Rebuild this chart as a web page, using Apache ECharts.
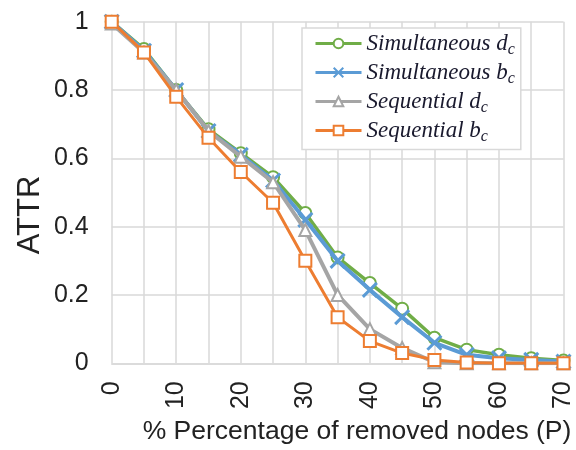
<!DOCTYPE html>
<html><head><meta charset="utf-8">
<script src="https://cdn.jsdelivr.net/npm/echarts@6/dist/echarts.min.js"></script>
<style>html,body{margin:0;padding:0;background:#fff}#c{width:576px;height:450px}</style>
</head><body><div id="c"></div>
<script>
const xValues = [0,5,10,15,20,25,30,35,40,45,50,55,60,65,70];
const simDc = [1, 0.92, 0.80, 0.685, 0.615, 0.545, 0.44, 0.31, 0.235, 0.16, 0.075, 0.04, 0.025, 0.015, 0.008];
const simBc = [1, 0.915, 0.80, 0.68, 0.61, 0.535, 0.42, 0.30, 0.215, 0.135, 0.06, 0.025, 0.015, 0.01, 0.005];
const seqDc = [0.995, 0.91, 0.80, 0.68, 0.605, 0.53, 0.39, 0.20, 0.10, 0.045, 0.003, 0, 0, 0, 0];
const seqBc = [1, 0.91, 0.78, 0.66, 0.56, 0.47, 0.30, 0.135, 0.065, 0.03, 0.01, 0.002, 0, 0, 0];
const seriesNames = ['Simultaneous d_c','Simultaneous b_c','Sequential d_c','Sequential b_c'];
const yTicks = [0,0.2,0.4,0.6,0.8,1];
const xTitle = '% Percentage of removed nodes (P)';
const yTitle = 'ATTR';

const colors = ['#70AD47','#5B9BD5','#A5A5A5','#ED7D31'];
const symbols = ['emptyCircle','path://M0,0L10,10M10,0L0,10','emptyTriangle','emptyRect'];
const lineW = [3.5, 4, 4, 3];
const symSize = [12, 14, 12, 12];
const datas = [simDc, simBc, seqDc, seqBc];
const pair = arr => xValues.map((x,i)=>[x,arr[i]]);

const chart = echarts.init(document.getElementById('c'));
const series = seriesNames.map((n,k)=>({
  name:n, type:'line', data:pair(datas[k]),
  symbol:symbols[k], symbolSize:symSize[k], showAllSymbol:true,
  lineStyle:{color:colors[k], width:lineW[k]},
  itemStyle:{color:colors[k], borderColor:colors[k], borderWidth: k===1?3:2.8},
  z: 2+k
}));
chart.setOption({
  animation:false,
  grid:{left:111.7, top:21.7, right:9.3, bottom:86.7},
  xAxis:{type:'value', min:0, max:70, interval:5,
    axisLine:{lineStyle:{color:'#d9d9d9', width:1.5}},
    axisTick:{show:false},
    splitLine:{show:true, lineStyle:{color:'#d9d9d9', width:1.5}},
    axisLabel:{rotate:90, margin:18, fontFamily:'Liberation Sans', fontSize:25, color:'#222',
      formatter:v=> (v%10===0? String(v):'')}
  },
  yAxis:{type:'value', min:0, max:1, interval:0.2,
    axisLine:{show:false}, axisTick:{show:false},
    splitLine:{lineStyle:{color:'#d9d9d9', width:1.5}},
    axisLabel:{margin:23, fontFamily:'Liberation Sans', fontSize:25, color:'#222',
      formatter:v=> yTicks.indexOf(+v.toFixed(1))>=0 ? String(+v.toFixed(1)) : ''}
  },
  legend:{orient:'vertical', left:302, top:28, itemWidth:46, itemHeight:12, itemGap:3.5,
    backgroundColor:'#fff', borderColor:'#d9d9d9', borderWidth:1.5, borderRadius:0,
    padding:[4,6,5,12],
    lineStyle:{width:3},
    formatter: n=>{ const p=n.split('_'); const words=p[0].split(' '); 
      return '{t|'+words[0]+' }{v|'+words[1]+'}{s|'+p[1]+'}'; },
    textStyle:{rich:{
      t:{fontFamily:'Liberation Serif', fontStyle:'italic', fontSize:23, color:'#1a1a2e'},
      v:{fontFamily:'Liberation Serif', fontStyle:'italic', fontSize:23, color:'#1a1a2e'},
      s:{fontFamily:'Liberation Serif', fontStyle:'italic', fontSize:16, color:'#1a1a2e', padding:[12,0,0,0]}
    }}
  },
  graphic:[
    {type:'text', x:30, y:215, rotation:Math.PI/2,
      style:{text:yTitle, align:'center', verticalAlign:'middle', fontFamily:'Liberation Sans', fontSize:31, fill:'#222'}},
    {type:'text', x:357, y:432,
      style:{text:xTitle, align:'center', verticalAlign:'middle', fontFamily:'Liberation Sans', fontSize:26.5, fill:'#222'}}
  ],
  series: series
});
</script></body></html>
